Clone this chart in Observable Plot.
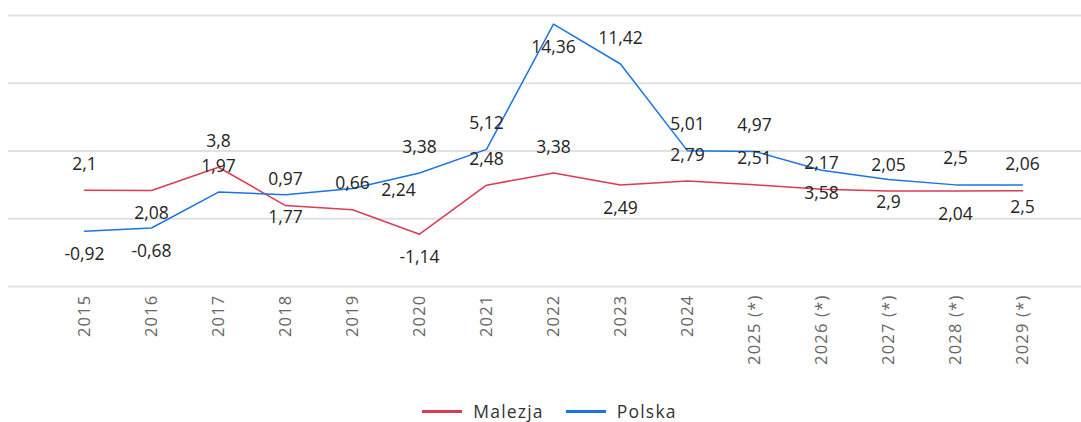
<!DOCTYPE html>
<html>
<head>
<meta charset="utf-8">
<script src="https://cdn.jsdelivr.net/npm/d3@7"></script>
<script src="https://cdn.jsdelivr.net/npm/@observablehq/plot@0.6"></script>
<style>
  html, body { margin: 0; padding: 0; background: #fff; }
  body { width: 1081px; height: 422px; overflow: hidden; font-family: "Open Sans", "Noto Sans", sans-serif; }
  #chart svg { display: block; }
  #chart g[aria-label="x-axis tick label"] text { letter-spacing: 1.2px; }
  #legend { display: flex; justify-content: center; align-items: center; gap: 22px; font-size: 17.5px; line-height: 20px; letter-spacing: 1.2px; color: #333; margin-top: 19px; padding-left: 18px; }
  #legend .item { display: flex; align-items: center; gap: 11px; }
  #legend .sw { width: 40px; height: 3px; display: inline-block; }
</style>
</head>
<body>
<div id="chart"></div>
<div id="legend"></div>
<script>
const years = ["2015","2016","2017","2018","2019","2020","2021","2022","2023","2024","2025 (*)","2026 (*)","2027 (*)","2028 (*)","2029 (*)"];
const malezja = [2.1, 2.08, 3.8, 0.97, 0.66, -1.14, 2.48, 3.38, 2.49, 2.79, 2.51, 2.17, 2.05, 2.04, 2.06];
const polska  = [-0.92, -0.68, 1.97, 1.77, 2.24, 3.38, 5.12, 14.36, 11.42, 5.01, 4.97, 3.58, 2.9, 2.5, 2.5];
const seriesNames = ["Malezja", "Polska"];
const colors = ["#dc3a55", "#1b74e4"];
// label side per point ("t" above, "b" below, "r" right) as in the original layout
const sideMalezja = ["t","b","t","t","t","b","t","t","b","t","t","t","t","b","t"];
const sidePolska  = ["b","b","t","b","r","t","t","b","t","t","t","b","b","t","b"];

const data = [];
years.forEach((y, i) => {
  data.push({year: y, value: malezja[i], series: "Malezja", side: sideMalezja[i]});
  data.push({year: y, value: polska[i], series: "Polska", side: sidePolska[i]});
});
const fmt = v => String(v).replace(".", ",");

const labelMark = (side, dy, dx = 0) => Plot.text(data.filter(d => d.side === side), {
  x: "year", y: "value", text: d => fmt(d.value), dy, dx,
  fill: "#252423", fontSize: 17.5, fontFamily: "Open Sans, sans-serif"
});

const chart = Plot.plot({
  width: 1081,
  height: 382,
  marginTop: 15,
  marginBottom: 96,
  marginLeft: 8,
  marginRight: 0,
  style: {fontFamily: "Open Sans, sans-serif", background: "#fff"},
  x: {type: "point", domain: years, padding: 0, insetLeft: 70, insetRight: 54, label: null},
  y: {domain: [-5, 15], label: null, axis: null},
  color: {domain: seriesNames, range: colors},
  marks: [
    Plot.ruleY([-5, 0, 5, 10, 15], {stroke: "#e1e1e1", strokeWidth: 2}),
    Plot.axisX({tickRotate: -90, tickSize: 0, tickPadding: 8, fontSize: 16.5, fill: "#666", textAnchor: "end"}),
    Plot.line(data, {x: "year", y: "value", z: "series", stroke: "series", strokeWidth: 1.5}),
    labelMark("t", -26),
    labelMark("b", 23),
    labelMark("r", 2, 46)
  ]
});
document.getElementById("chart").appendChild(chart);

const legend = document.getElementById("legend");
seriesNames.forEach((n, i) => {
  const it = document.createElement("div");
  it.className = "item";
  it.innerHTML = `<span class="sw" style="background:${colors[i]}"></span><span>${n}</span>`;
  legend.appendChild(it);
});
</script>
</body>
</html>
